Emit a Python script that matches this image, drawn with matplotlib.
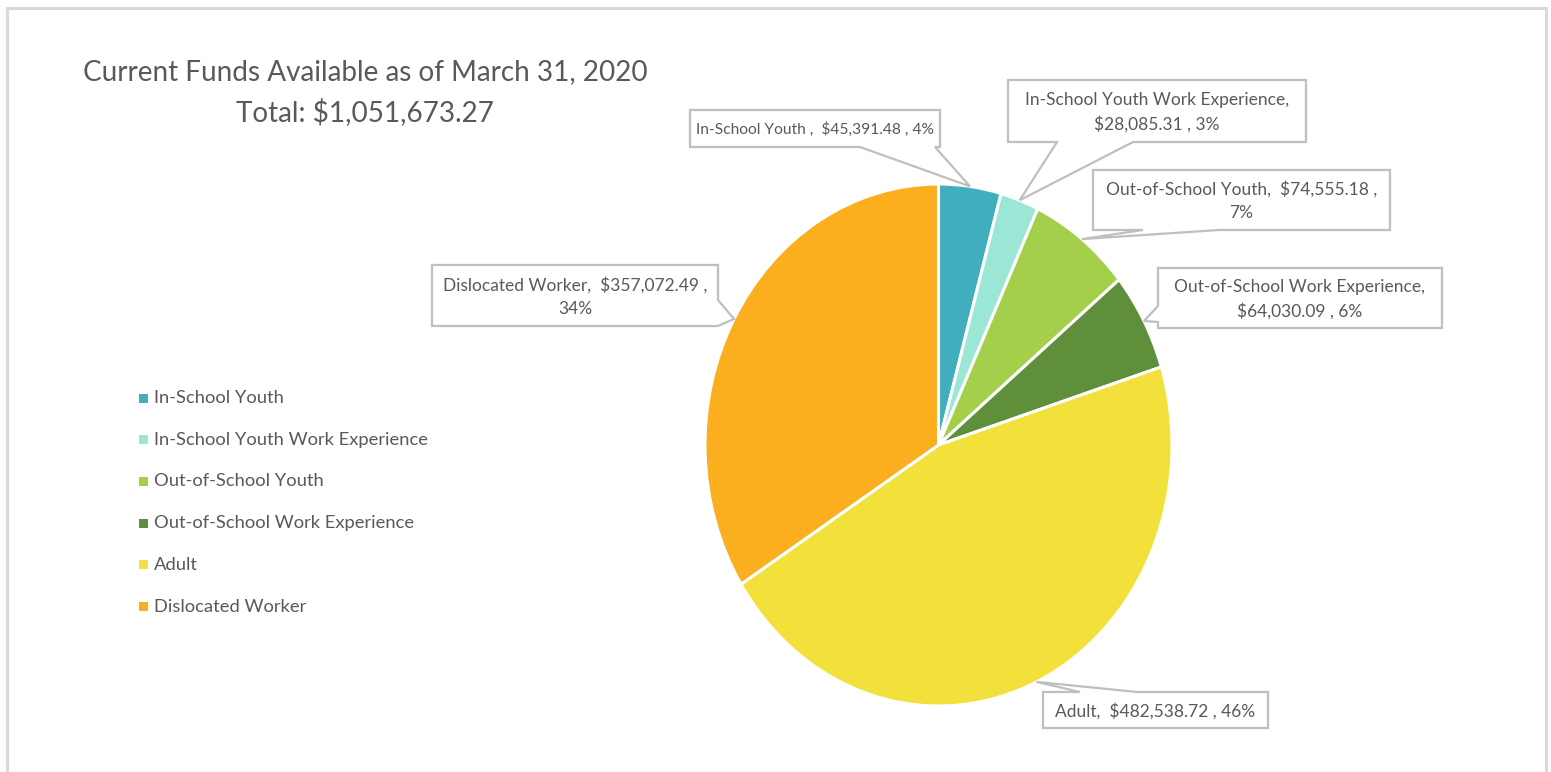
import matplotlib
matplotlib.use("Agg")
import matplotlib.pyplot as plt
from matplotlib.patches import Polygon, Rectangle
import numpy as np

plt.rcParams['font.family'] = ['Lato', 'DejaVu Sans']

# Fund categories and balances
categories = ["In-School Youth", "In-School Youth Work Experience", "Out-of-School Youth",
              "Out-of-School Work Experience", "Adult", "Dislocated Worker"]
amounts = [45391.48, 28085.31, 74555.18, 64030.09, 482538.72, 357072.49]
colors = ["#41AEBD", "#9BE7D5", "#A4CF4B", "#5F8F3B", "#F2E03B", "#FBAF1F"]
title_lines = ["Current Funds Available as of March 31, 2020", "Total: $1,051,673.27"]

# Where each data label wraps: 0 = one line, 1 = after name, 2 = after amount
label_wrap = [0, 1, 2, 1, 0, 2]
# Separator placed after the category name
name_sep = [" ,  ", ",", ",  ", ",", ",  ", ",  "]

W, H = 1551, 772
fig = plt.figure(figsize=(W / 100, H / 100), dpi=100)
fig.patch.set_facecolor("white")

# Pie (slightly taller than wide)
px0, py0, px1, py1 = 705, 184, 1172, 706
pax = fig.add_axes([px0 / W, 1 - py1 / H, (px1 - px0) / W, (py1 - py0) / H])
wedges, _ = pax.pie(amounts, colors=colors, startangle=90, counterclock=False,
                    wedgeprops=dict(edgecolor="white", linewidth=2.2))
pax.set_aspect("auto")
pax.set_xlim(-1, 1)
pax.set_ylim(-1, 1)
pax.axis("off")

# Overlay in pixel coordinates for text, legend and callouts
ov = fig.add_axes([0, 0, 1, 1], zorder=5)
ov.set_xlim(0, W)
ov.set_ylim(H, 0)
ov.axis("off")
ov.patch.set_alpha(0)

# Chart-area border (open at the bottom)
ov.plot([7, 7, 1546, 1546], [H + 5, 8, 8, H + 5], color="#d9d9d9", lw=2.2,
        solid_joinstyle="miter")

txt = "#595959"
ov.text(365, 72, title_lines[0], ha="center", va="center", fontsize=20.1, color=txt)
ov.text(365, 112, title_lines[1], ha="center", va="center", fontsize=20.1, color=txt)

# Legend
leg_y0, leg_dy = 398, 41.7
for i, (name, c) in enumerate(zip(categories, colors)):
    y = leg_y0 + i * leg_dy
    ov.add_patch(Rectangle((139, y - 4.5), 9, 9, facecolor=c, edgecolor="none"))
    ov.text(154, y, name, ha="left", va="center", fontsize=13.2, color=txt)

# Callout boxes: (x0, y0, x1, y1), pointer side, pointer base span
boxes = [(690, 110, 940, 147), (1008, 80, 1306, 142), (1093, 170, 1390, 230),
         (1158, 268, 1442, 328), (1043, 692, 1268, 728), (432, 265, 718, 326)]
sides = ["bottom", "bottom", "bottom", "left", "top", "right"]
spans = [(860, 935), (1057, 1133), (1143, 1219), (306, 322), (1080, 1137), (300, 326)]
label_size = [11.2, 12.5, 12.5, 12.5, 12.5, 12.5]

total = sum(amounts)
to_px = pax.transData + ov.transData.inverted()


def callout_vertices(box, side, span, tip):
    x0, y0, x1, y1 = box
    a, b = span
    pts = [(x0, y0)]
    if side == "top":
        pts += [(a, y0), tip, (b, y0)]
    pts += [(x1, y0)]
    if side == "right":
        pts += [(x1, a), tip, (x1, b)]
    pts += [(x1, y1)]
    if side == "bottom":
        pts += [(b, y1), tip, (a, y1)]
    pts += [(x0, y1)]
    if side == "left":
        pts += [(x0, b), tip, (x0, a)]
    return pts


for w, name, v, wrap, sep, box, side, span, fs in zip(
        wedges, categories, amounts, label_wrap, name_sep, boxes, sides, spans, label_size):
    mid = np.deg2rad((w.theta1 + w.theta2) / 2)
    tip = tuple(to_px.transform((np.cos(mid), np.sin(mid))))
    pct = f"{round(v / total * 100):.0f}%"
    amt = f"${v:,.2f}"
    if wrap == 0:
        s = f"{name}{sep}{amt} , {pct}"
    elif wrap == 1:
        s = f"{name}{sep}\n{amt} , {pct}"
    else:
        s = f"{name}{sep}{amt} ,\n{pct}"
    ov.add_patch(Polygon(callout_vertices(box, side, span, tip), closed=True,
                         facecolor="white", edgecolor="#bfbfbf", lw=1.6,
                         joinstyle="miter"))
    ov.text((box[0] + box[2]) / 2, (box[1] + box[3]) / 2 + 1, s, ha="center",
            va="center", fontsize=fs, color=txt, linespacing=1.55)

fig.savefig("out.png", dpi=100, facecolor="white")
